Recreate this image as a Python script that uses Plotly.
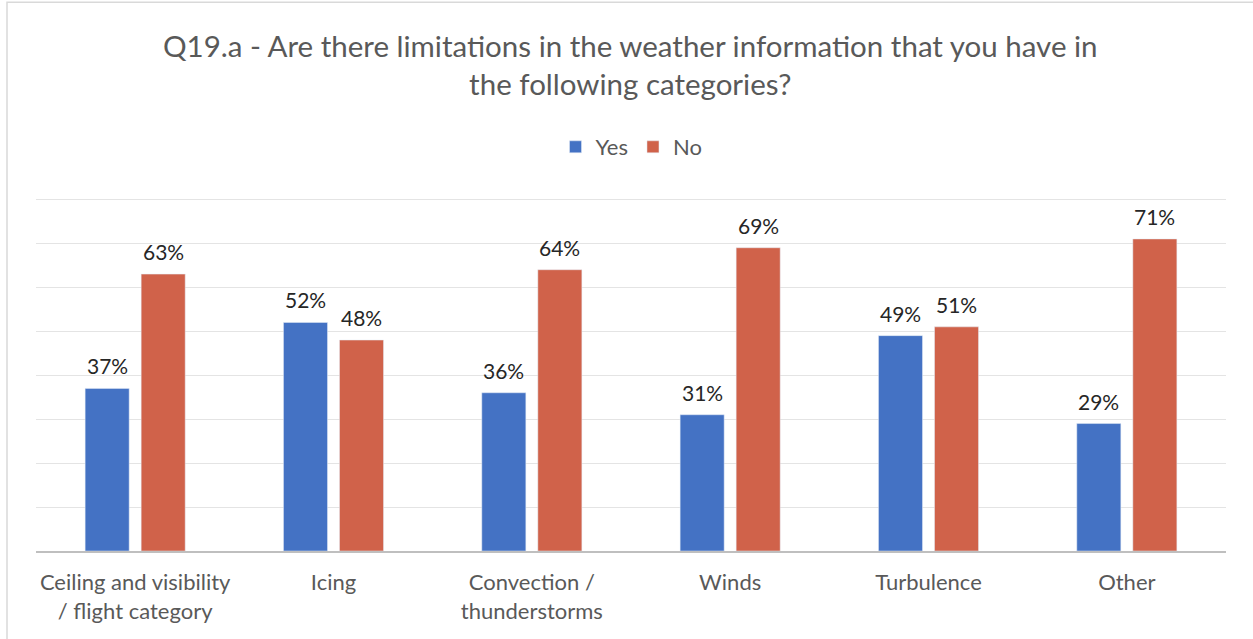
import plotly.graph_objects as go

categories = ["Ceiling and visibility<br>/ flight category", "Icing", "Convection /<br>thunderstorms",
              "Winds", "Turbulence", "Other"]
yes_vals = [37, 52, 36, 31, 49, 29]
no_vals = [63, 48, 64, 69, 51, 71]

FONT = "Lato"

fig = go.Figure()
fig.add_trace(go.Bar(name="Yes", x=categories, y=yes_vals, marker_color="#4472C4"))
fig.add_trace(go.Bar(name="No", x=categories, y=no_vals, marker_color="#D0624A"))

for vals, shift in ((yes_vals, -28), (no_vals, 28)):
    for c, v in zip(categories, vals):
        fig.add_annotation(x=c, y=v, text=f"{v}%", showarrow=False, xshift=shift, yshift=8,
                           yanchor="bottom", font=dict(size=21, color="#262626", family=FONT))

fig.update_layout(
    width=1253, height=639,
    paper_bgcolor="white", plot_bgcolor="white",
    margin=dict(l=36, r=27, t=194.6, b=88, autoexpand=False),
    barmode="group", bargap=0.435, bargroupgap=0.214,
    font=dict(family=FONT, color="#595959"),
    title=dict(text="Q19.a - Are there limitations in the weather information that you have in<br>the following categories?",
               x=0.503, xanchor="center", xref="container", y=1 - 57/639, yanchor="middle", yref="container",
               font=dict(size=29.5, color="#595959", family=FONT)),
    legend=dict(orientation="h", x=0.504, xanchor="center", xref="container",
                y=1 - 147/639, yanchor="middle", yref="container",
                font=dict(size=22, color="#595959", family=FONT), traceorder="normal"),
    showlegend=True,
    hovermode=False,
)
fig.update_xaxes(showline=True, linecolor="#BFBFBF", linewidth=1.5, ticks="", automargin=False,
                 ticklabelstandoff=11,
                 tickfont=dict(size=22, color="#595959", family=FONT))
fig.update_yaxes(range=[0, 81], tickvals=[10, 20, 30, 40, 50, 60, 70, 80], showticklabels=False,
                 gridcolor="#E4E4E4", gridwidth=1.3, zeroline=False, automargin=False)
fig.add_shape(type="rect", xref="paper", yref="paper",
              x0=-29/1190, x1=1.03, y0=-0.3, y1=1+193/356.4,
              line=dict(color="#D9D9D9", width=1.5), fillcolor="rgba(0,0,0,0)")
fig.write_html("out.html", config={"displayModeBar": False},
               post_script="document.body.style.margin='0';")
